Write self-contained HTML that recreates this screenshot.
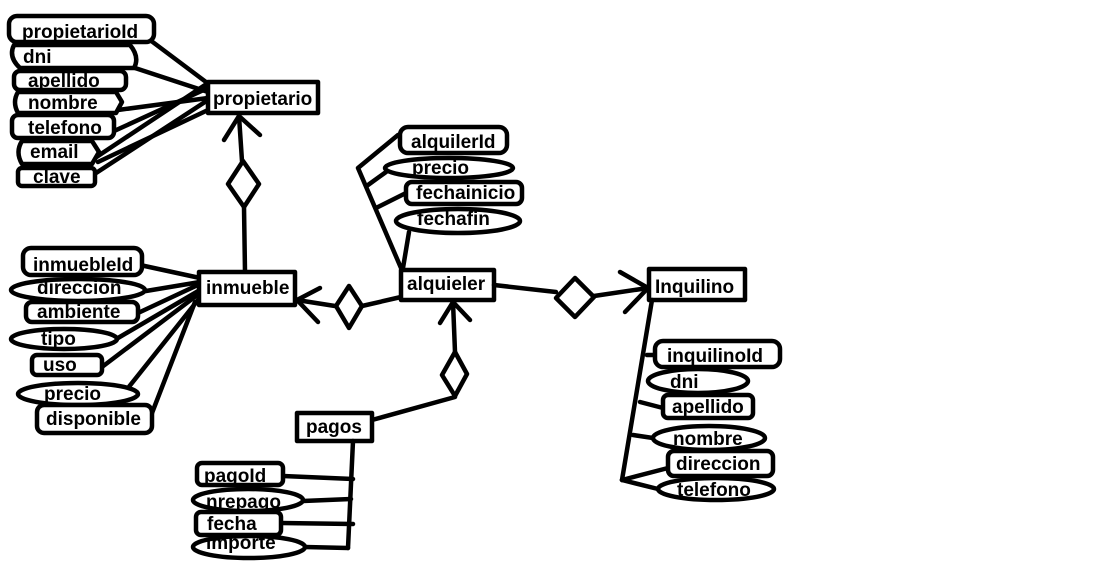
<!DOCTYPE html>
<html><head><meta charset="utf-8"><style>
html,body{margin:0;padding:0;background:#fff;width:1093px;height:580px;overflow:hidden}
svg{display:block}
text{font-family:"Liberation Sans",Arial,sans-serif;font-weight:bold;font-size:19px;fill:#000}
</style></head><body>
<svg width="1093" height="580" viewBox="0 0 1093 580" xmlns="http://www.w3.org/2000/svg">
<g stroke="#000" stroke-width="4.5" fill="none" stroke-linecap="round" stroke-linejoin="round">
<line x1="150" y1="40" x2="210" y2="85"/>
<line x1="135" y1="68" x2="208" y2="92"/>
<line x1="118" y1="110" x2="208" y2="98"/>
<line x1="112" y1="132" x2="208" y2="88"/>
<line x1="92" y1="160" x2="205" y2="85"/>
<line x1="93" y1="175" x2="208" y2="100"/>
<line x1="98" y1="162" x2="208" y2="110"/>
<rect x="9" y="16" width="145" height="26" rx="8" fill="#fff"/>
<path d="M14 45 H130 Q140 57 134 68 H20 Q8 57 14 45Z" fill="#fff"/>
<rect x="14" y="71" width="112" height="19" rx="6" fill="#fff"/>
<path d="M18 92 H116 L122 102 L116 113 H18 Q12 102 18 92Z" fill="#fff"/>
<rect x="12" y="115" width="102" height="23" rx="6" fill="#fff"/>
<path d="M22 141 H92 L99 152 L92 164 H22 Q15 152 22 141Z" fill="#fff"/>
<rect x="18" y="168" width="77" height="18" rx="4" fill="#fff"/>
<rect x="208" y="82" width="110" height="31" fill="#fff"/>
<polyline points="224,140 239,116 260,135"/>
<line x1="239" y1="116" x2="242" y2="161"/>
<polygon points="243,161 259,184 244,207 228,184"/>
<line x1="244" y1="207" x2="245" y2="272"/>
<line x1="140" y1="265" x2="200" y2="278"/>
<line x1="146" y1="291" x2="200" y2="282"/>
<line x1="138" y1="313" x2="200" y2="284"/>
<line x1="118" y1="338" x2="200" y2="290"/>
<line x1="102" y1="367" x2="200" y2="293"/>
<line x1="128" y1="388" x2="198" y2="300"/>
<line x1="152" y1="413" x2="195" y2="302"/>
<rect x="23" y="248" width="119" height="27" rx="8" fill="#fff"/>
<ellipse cx="78" cy="290" rx="67" ry="11" fill="#fff"/>
<rect x="26" y="302" width="112" height="20" rx="6" fill="#fff"/>
<ellipse cx="64" cy="339" rx="53" ry="10" fill="#fff"/>
<rect x="32" y="355" width="70" height="20" rx="5" fill="#fff"/>
<ellipse cx="78" cy="394" rx="60" ry="11" fill="#fff"/>
<rect x="37" y="405" width="115" height="28" rx="7" fill="#fff"/>
<rect x="199" y="272" width="96" height="33" fill="#fff"/>
<polyline points="320,288 297,300 318,322"/>
<line x1="297" y1="300" x2="335" y2="306"/>
<polygon points="349,286 362,306 349,328 336,306"/>
<line x1="362" y1="306" x2="401" y2="297"/>
<polyline points="398,135 358,168 401,268"/>
<line x1="368" y1="185" x2="386" y2="172"/>
<line x1="376" y1="208" x2="406" y2="193"/>
<line x1="409" y1="232" x2="403" y2="268"/>
<rect x="400" y="127" width="107" height="26" rx="8" fill="#fff"/>
<ellipse cx="449" cy="168" rx="64" ry="10" fill="#fff"/>
<rect x="406" y="182" width="116" height="22" rx="6" fill="#fff"/>
<ellipse cx="458" cy="221" rx="62" ry="12" fill="#fff"/>
<rect x="401" y="270" width="93" height="30" fill="#fff"/>
<polyline points="440,323 453,302 470,320"/>
<line x1="453" y1="302" x2="455" y2="352"/>
<polygon points="455,352 467,374 455,396 442,375"/>
<line x1="455" y1="397" x2="372" y2="420"/>
<rect x="297" y="413" width="75" height="28" fill="#fff"/>
<line x1="353" y1="441" x2="348" y2="548"/>
<line x1="283" y1="476" x2="353" y2="479"/>
<line x1="303" y1="501" x2="351" y2="499"/>
<line x1="281" y1="523" x2="353" y2="524"/>
<line x1="305" y1="547" x2="348" y2="548"/>
<rect x="197" y="463" width="86" height="22" rx="5" fill="#fff"/>
<ellipse cx="248" cy="500" rx="55" ry="11" fill="#fff"/>
<rect x="196" y="512" width="85" height="23" rx="5" fill="#fff"/>
<ellipse cx="249" cy="547" rx="56" ry="11" fill="#fff"/>
<line x1="494" y1="285" x2="556" y2="292"/>
<polygon points="575,278 594,297 575,317 556,298"/>
<line x1="594" y1="296" x2="648" y2="288"/>
<polyline points="620,272 648,288 625,312"/>
<rect x="649" y="269" width="96" height="31" fill="#fff"/>
<line x1="652" y1="300" x2="622" y2="480"/>
<line x1="647" y1="355" x2="656" y2="355"/>
<line x1="640" y1="402" x2="663" y2="408"/>
<line x1="633" y1="435" x2="653" y2="438"/>
<line x1="622" y1="480" x2="668" y2="468"/>
<line x1="622" y1="480" x2="658" y2="489"/>
<rect x="655" y="341" width="125" height="26" rx="8" fill="#fff"/>
<ellipse cx="698" cy="381" rx="50" ry="12" fill="#fff"/>
<rect x="663" y="395" width="90" height="23" rx="5" fill="#fff"/>
<ellipse cx="709" cy="438" rx="56" ry="12" fill="#fff"/>
<rect x="668" y="451" width="105" height="25" rx="6" fill="#fff"/>
<ellipse cx="716" cy="489" rx="58" ry="11" fill="#fff"/>
</g>
<text x="22" y="38">propietarioId</text>
<text x="23" y="63">dni</text>
<text x="28" y="87">apellido</text>
<text x="28" y="109">nombre</text>
<text x="28" y="134">telefono</text>
<text x="30" y="158">email</text>
<text x="33" y="183">clave</text>
<text x="213" y="105">propietario</text>
<text x="33" y="271">inmuebleId</text>
<text x="37" y="294">direccion</text>
<text x="37" y="318">ambiente</text>
<text x="41" y="345">tipo</text>
<text x="43" y="371">uso</text>
<text x="44" y="400">precio</text>
<text x="46" y="425">disponible</text>
<text x="206" y="294">inmueble</text>
<text x="411" y="148">alquilerId</text>
<text x="412" y="174">precio</text>
<text x="416" y="199">fechainicio</text>
<text x="417" y="225">fechafin</text>
<text x="407" y="290">alquieler</text>
<text x="306" y="433">pagos</text>
<text x="204" y="482">pagoId</text>
<text x="206" y="508">nrepago</text>
<text x="207" y="530">fecha</text>
<text x="206" y="549">importe</text>
<text x="655" y="293">Inquilino</text>
<text x="667" y="362">inquilinoId</text>
<text x="670" y="388">dni</text>
<text x="672" y="413">apellido</text>
<text x="673" y="445">nombre</text>
<text x="676" y="470">direccion</text>
<text x="677" y="496">telefono</text>
</svg>
</body></html>
